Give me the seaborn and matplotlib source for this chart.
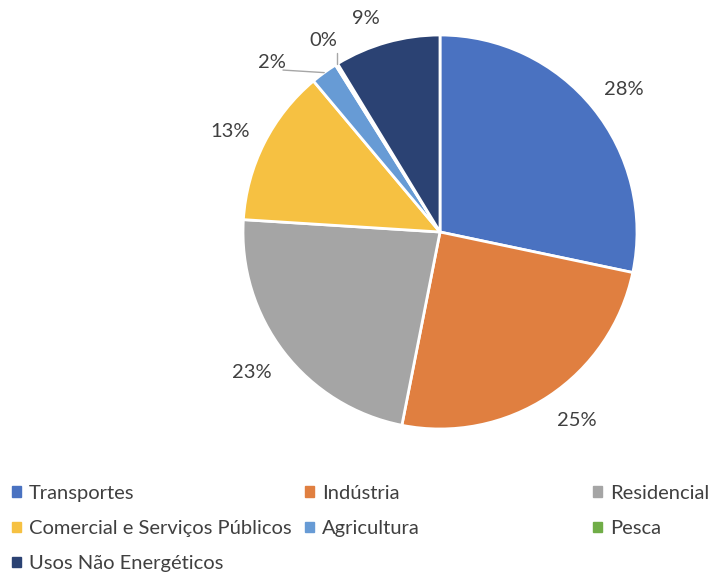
import numpy as np
import matplotlib
matplotlib.use("Agg")
import matplotlib.pyplot as plt
import seaborn as sns

categories = ["Transportes", "Indústria", "Residencial", "Comercial e Serviços Públicos",
              "Agricultura", "Pesca", "Usos Não Energéticos"]
values = [28.3, 24.8, 22.9, 12.9, 2.2, 0.2, 8.7]
labels = ["28%", "25%", "23%", "13%", "2%", "0%", "9%"]
colors = ["#4A72C1", "#E07F40", "#A5A5A5", "#F6C142", "#679BD5", "#70AD47", "#2B4273"]

sns.set_theme(style="white")
plt.rcParams['font.family'] = ['Lato', 'DejaVu Sans']

W, H = 712, 577
fig = plt.figure(figsize=(W / 100, H / 100), dpi=100)
cx, cy, R = 440, 232, 197
ax = fig.add_axes([(cx - R) / W, (H - cy - R) / H, 2 * R / W, 2 * R / H])

wedges, _ = ax.pie(values, colors=colors, startangle=90, counterclock=False, radius=1,
                   wedgeprops=dict(edgecolor="white", linewidth=2))
ax.set_xlim(-1, 1)
ax.set_ylim(-1, 1)
ax.set_aspect("auto")
ax.axis("off")

FS = 14.5
dist = [1.18, 1.181, 1.19, 1.181, 1.213, 1.141, 1.145]
shift = [-1.4, 2.6, -0.9, 1.3, 8.7, -0.3, 3.5]
for w, lab, d, s in zip(wedges, labels, dist, shift):
    ang = np.deg2rad((w.theta1 + w.theta2) / 2 + s)
    x, y = d * np.cos(ang), d * np.sin(ang)
    ax.text(x, y, lab, ha="center", va="center", fontsize=FS, color="#404040", clip_on=False)

# leader lines for small slices
def ang_pt(w, r):
    a = np.deg2rad((w.theta1 + w.theta2) / 2)
    return r * np.cos(a), r * np.sin(a)

x0, y0 = ang_pt(wedges[4], 1.0)
ax.plot([-0.797, x0], [0.822, y0], color="#A6A6A6", lw=1, clip_on=False)
x1, y1 = ang_pt(wedges[5], 1.0)
ax.plot([x1, x1], [y1, 0.91], color="#A6A6A6", lw=1, clip_on=False)

# legend in three columns
cols = [[0, 3, 6], [1, 4], [2, 5]]
xs = [12 / W, 305 / W, 593 / W]
for col, xpos in zip(cols, xs):
    handles = [plt.Rectangle((0, 0), 1, 1, color=colors[i]) for i in col]
    fig.legend(handles, [categories[i] for i in col], loc="upper left",
               bbox_to_anchor=(xpos, 1 - 485 / H), frameon=False, fontsize=FS,
               handlelength=0.45, handleheight=0.45, handletextpad=0.4,
               labelspacing=0.9, borderaxespad=0, borderpad=0, labelcolor="#404040")

fig.savefig("out.png", dpi=100, facecolor="white")
